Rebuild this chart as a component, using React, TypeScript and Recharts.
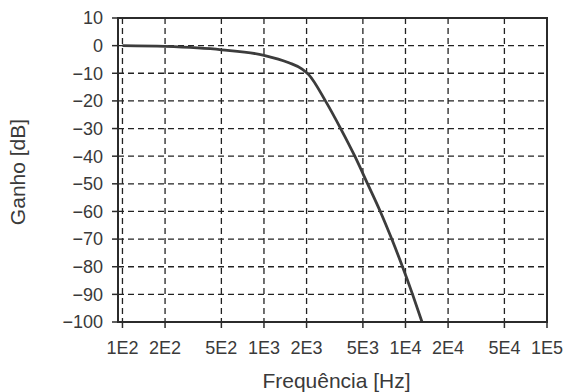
import React from "react";
import {
  LineChart,
  Line,
  XAxis,
  YAxis,
  CartesianGrid,
  ReferenceArea,
  Label,
} from "recharts";

const freqs = [100, 200, 500, 1000, 1500, 1850, 2070, 2718, 3483, 4385, 5400, 6637, 8000, 9528, 11220, 13090];
const gains = [0, -0.3, -1.5, -3.5, -6.2, -8.4, -10.5, -20, -30, -40, -50, -60, -70, -80, -90, -100];

const xTickValues = [100, 200, 500, 1000, 2000, 5000, 10000, 20000, 50000, 100000];
const xTickLabels = ["1E2", "2E2", "5E2", "1E3", "2E3", "5E3", "1E4", "2E4", "5E4", "1E5"];
const yTickValues = [10, 0, -10, -20, -30, -40, -50, -60, -70, -80, -90, -100];

const data = freqs.map((f, i) => ({ f, g: gains[i] }));

const FONT = "'Liberation Sans', Arial, Helvetica, sans-serif";
const TXT = "#3a3a3a";

export default function App() {
  return (
    <div style={{ position: "absolute", left: 0, top: 0, background: "#fff" }}>
      <LineChart
        width={564}
        height={392}
        data={data}
        margin={{ top: 18, right: 17, left: 0, bottom: 0 }}
        style={{ fontFamily: FONT }}
      >
        <CartesianGrid stroke="#222" strokeWidth={1.3} strokeDasharray="6 4" />
        <XAxis
          dataKey="f"
          type="number"
          scale="log"
          domain={[93, 100000]}
          allowDataOverflow
          ticks={xTickValues}
          tickFormatter={(v: number) => xTickLabels[xTickValues.indexOf(v)] ?? ""}
          interval={0}
          height={70}
          tickSize={6}
          tickMargin={13}
          axisLine={{ stroke: "#2b2b2b", strokeWidth: 2 }}
          tickLine={{ stroke: "#2b2b2b", strokeWidth: 1.5 }}
          tick={{ fill: TXT, fontSize: 18, fontFamily: FONT }}
        >
          <Label
            value="Frequência [Hz]"
            position="insideBottom"
            offset={4}
            dx={4}
            style={{ fill: TXT, fontSize: 21, fontFamily: FONT }}
          />
        </XAxis>
        <YAxis
          type="number"
          domain={[-100, 10]}
          ticks={yTickValues}
          interval={0}
          width={118}
          tickSize={6}
          tickMargin={9}
          tickFormatter={(v: number) => String(v).replace("-", "\u2212")}
          axisLine={{ stroke: "#2b2b2b", strokeWidth: 2 }}
          tickLine={{ stroke: "#2b2b2b", strokeWidth: 1.5 }}
          tick={{ fill: TXT, fontSize: 18, fontFamily: FONT }}
        >
          <Label
            value="Ganho [dB]"
            angle={-90}
            position="insideLeft"
            offset={18}
            dy={2}
            style={{ fill: TXT, fontSize: 21, fontFamily: FONT, textAnchor: "middle" }}
          />
        </YAxis>
        <ReferenceArea
          x1={93}
          x2={100000}
          y1={-100}
          y2={10}
          fill="none"
          stroke="#2b2b2b"
          strokeWidth={2}
          ifOverflow="visible"
        />
        <Line
          type="monotone"
          dataKey="g"
          stroke="#3c3c3c"
          strokeWidth={2.8}
          dot={false}
          isAnimationActive={false}
        />
      </LineChart>
    </div>
  );
}
